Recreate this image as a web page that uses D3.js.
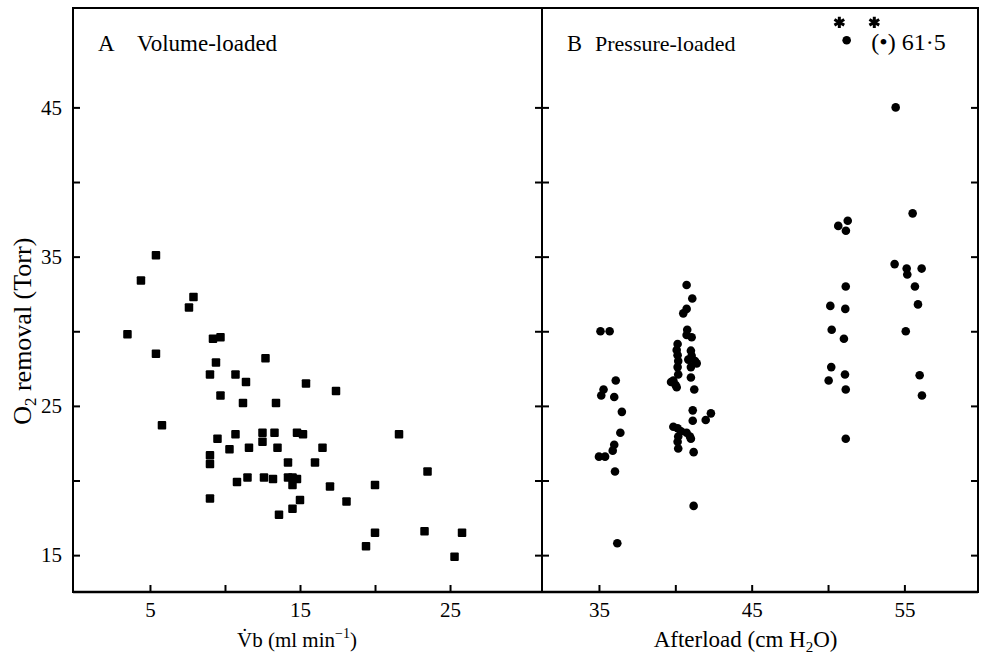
<!DOCTYPE html>
<html>
<head>
<meta charset="utf-8">
<script src="https://cdn.jsdelivr.net/npm/d3@7"></script>
<style>
  body { margin: 0; background: #fff; }
  svg { display: block; }
  svg text { font-family: "Liberation Serif", "Times New Roman", Times, "DejaVu Serif", serif !important; fill: #000; }
  .tick line { stroke: #000; stroke-width: 2; }
</style>
</head>
<body>
<svg id="chart" width="981" height="660"></svg>
<script>
// panel A: volume-loaded, flow (ml/min) vs O2 removal (Torr)
const flowA = [5.4, 4.4, 7.9, 7.6, 3.5, 9.2, 9.7, 5.4, 12.7, 9.4, 9.0, 10.7, 11.4, 15.4, 9.7, 11.2,
  13.4, 17.4, 5.8, 10.7, 9.5, 12.5, 13.3, 14.8, 15.2, 21.6, 10.3, 11.6, 12.5, 13.5, 16.5, 9.0,
  9.0, 14.2, 16.0, 11.5, 10.8, 12.6, 13.2, 14.2, 14.5, 14.8, 14.5, 17.0, 20.0, 23.5, 18.1, 15.0,
  14.5, 13.6, 9.0, 20.0, 23.3, 25.8, 19.4, 25.3];
const o2A = [35.1, 33.4, 32.3, 31.6, 29.8, 29.5, 29.6, 28.5, 28.2, 27.9, 27.1, 27.1, 26.6, 26.5, 25.7, 25.2,
  25.2, 26.0, 23.7, 23.1, 22.8, 23.2, 23.2, 23.2, 23.1, 23.1, 22.1, 22.2, 22.6, 22.2, 22.2, 21.7,
  21.1, 21.2, 21.2, 20.2, 19.9, 20.2, 20.1, 20.2, 20.2, 20.1, 19.7, 19.6, 19.7, 20.6, 18.6, 18.7,
  18.1, 17.7, 18.8, 16.5, 16.6, 16.5, 15.6, 14.9];

// panel B: pressure-loaded, afterload (cm H2O) vs O2 removal (Torr)
const afterloadB = [35.1, 35.7, 36.1, 35.3, 35.15, 36.0, 36.5, 36.4, 36.0, 35.9, 35.0, 35.4, 36.05, 36.2,
  40.74, 41.11, 40.74, 40.52, 40.78, 40.74, 41.07, 40.15, 40.09, 40.15, 41.02, 41.07, 40.19, 40.15,
  40.85, 41.29, 41.4, 41.02, 40.19, 39.87, 39.72, 40.02, 40.09, 41.02, 41.24, 41.14, 41.14, 42.33,
  41.99, 39.87, 40.15, 40.37, 40.74, 40.96, 40.19, 40.15, 40.19, 41.02, 41.2, 41.2,
  51.29, 50.67, 51.17, 51.16, 50.15, 51.13, 50.24, 51.04, 50.21, 50.04, 51.11, 51.16, 51.16,
  54.43, 55.54, 54.36, 55.15, 55.19, 56.13, 55.69, 55.89, 55.09, 56.0, 56.15];
const o2B = [30.0, 30.0, 26.7, 26.1, 25.7, 25.6, 24.6, 23.2, 22.4, 22.0, 21.6, 21.6, 20.6, 15.8,
  33.1, 32.2, 31.5, 31.2, 30.1, 29.75, 29.6, 29.15, 28.75, 28.4, 28.7, 28.35, 28.0, 27.6,
  28.1, 28.0, 27.85, 27.6, 27.1, 26.7, 26.6, 26.4, 26.25, 26.9, 26.1, 24.7, 24.0, 24.5,
  24.05, 23.6, 23.5, 23.3, 23.2, 22.95, 22.95, 22.6, 22.15, 22.8, 21.9, 18.3,
  37.4, 37.06, 36.74, 33.0, 31.7, 31.5, 30.1, 29.5, 27.6, 26.7, 27.1, 26.1, 22.8,
  45.0, 37.9, 34.5, 34.2, 33.8, 34.2, 33.0, 31.8, 30.0, 27.05, 25.7];

// off-scale value, drawn at the top of the panel
const offAfterload = [51.22];
const offO2 = [61.5];
const offCap = 49.5;
const starAfterload = [50.74, 53.03];
const starLevel = 50.7;

const yTicks = [15, 20, 25, 30, 35, 40, 45];
const xTicksA = [5, 10, 15, 20, 25];
const xTicksB = [35, 40, 45, 50, 55];

const serif = "'Liberation Serif', 'Times New Roman', Times, 'DejaVu Serif', serif";

const svg = d3.select('#chart').attr("font-family", serif);
const plotLeft = 73, plotMid = 542, plotRight = 978, plotTop = 8, plotBottom = 592;

const y = d3.scaleLinear().domain([12.53, 51.66]).range([plotBottom, plotTop]);
const xA = d3.scaleLinear().domain([-0.13, 31.13]).range([plotLeft, plotMid]);
const xB = d3.scaleLinear().domain([31.27, 59.82]).range([plotMid, plotRight]);

const labelFmt = d => (d % 10 === 5 ? d : "");

// y axis on the left (ticks point inward)
svg.append("g")
    .attr("transform", "translate(" + plotLeft + ",0)")
    .call(d3.axisLeft(y).tickValues(yTicks).tickSizeInner(-7).tickSizeOuter(0).tickPadding(11).tickFormat(labelFmt))
    .attr("font-family", serif)
    .call(g => g.select(".domain").remove())
    .selectAll("text").attr("font-size", 21);

// ticks on the divider (both sides) and right frame
svg.append("g")
    .attr("transform", "translate(" + (plotMid - 7) + ",0)")
    .call(d3.axisLeft(y).tickValues(yTicks).tickSizeInner(-14).tickSizeOuter(0).tickFormat(""))
    .call(g => g.select(".domain").remove());
svg.append("g")
    .attr("transform", "translate(" + plotRight + ",0)")
    .call(d3.axisRight(y).tickValues(yTicks).tickSizeInner(-7).tickSizeOuter(0).tickFormat(""))
    .call(g => g.select(".domain").remove());

// bottom axes
svg.append("g")
    .attr("transform", "translate(0," + plotBottom + ")")
    .call(d3.axisBottom(xA).tickValues(xTicksA).tickSizeInner(-7).tickSizeOuter(0).tickPadding(10).tickFormat(labelFmt))
    .attr("font-family", serif)
    .call(g => g.select(".domain").remove())
    .selectAll("text").attr("font-size", 21);
svg.append("g")
    .attr("transform", "translate(0," + plotBottom + ")")
    .call(d3.axisBottom(xB).tickValues(xTicksB).tickSizeInner(-7).tickSizeOuter(0).tickPadding(10).tickFormat(labelFmt))
    .attr("font-family", serif)
    .call(g => g.select(".domain").remove())
    .selectAll("text").attr("font-size", 21);

// frame
svg.append("rect")
    .attr("x", plotLeft).attr("y", plotTop)
    .attr("width", plotRight - plotLeft).attr("height", plotBottom - plotTop)
    .attr("fill", "none").attr("stroke", "#000").attr("stroke-width", 2);
svg.append("line")
    .attr("x1", plotLeft).attr("x2", plotRight).attr("y1", plotBottom).attr("y2", plotBottom)
    .attr("stroke", "#000").attr("stroke-width", 2.5);
svg.append("line")
    .attr("x1", plotMid).attr("x2", plotMid).attr("y1", plotTop).attr("y2", plotBottom)
    .attr("stroke", "#000").attr("stroke-width", 2);

// panel A squares
svg.append("g").selectAll("rect")
    .data(flowA.map((v, i) => [v, o2A[i]]))
    .enter().append("rect")
    .attr("x", d => xA(d[0]) - 4.25)
    .attr("y", d => y(d[1]) - 4.25)
    .attr("width", 8.5).attr("height", 8.5)
    .attr("rx", 1)
    .attr("fill", "#000");

// panel B dots
svg.append("g").selectAll("circle")
    .data(afterloadB.map((v, i) => [v, o2B[i]]))
    .enter().append("circle")
    .attr("cx", d => xB(d[0]))
    .attr("cy", d => y(d[1]))
    .attr("r", 4.3)
    .attr("fill", "#000");

svg.append("g").selectAll("circle")
    .data(offAfterload.map((v, i) => [v, Math.min(offO2[i], offCap)]))
    .enter().append("circle")
    .attr("cx", d => xB(d[0]))
    .attr("cy", d => y(d[1]))
    .attr("r", 4.3)
    .attr("fill", "#000");

svg.append("g").selectAll("path")
    .data(starAfterload)
    .enter().append("path")
    .attr("transform", d => "translate(" + xB(d) + "," + y(starLevel) + ")")
    .attr("d", d3.symbol().type(d3.symbolAsterisk).size(90))
    .attr("fill", "none")
    .attr("stroke", "#000")
    .attr("stroke-width", 3);

svg.append("text")
    .attr("x", xB(starAfterload[1]) - 3)
    .attr("y", 50)
    .attr("font-size", 24)
    .text("(•) " + String(offO2[0]).replace(".", "·"));

// panel headings
svg.append("text").attr("x", 98).attr("y", 51).attr("font-size", 23).text("A");
svg.append("text").attr("x", 137).attr("y", 51).attr("font-size", 23).text("Volume-loaded");
svg.append("text").attr("x", 567).attr("y", 51).attr("font-size", 22.5).text("B");
svg.append("text").attr("x", 595).attr("y", 51).attr("font-size", 22).text("Pressure-loaded");

// axis titles
const yTitle = svg.append("text")
    .attr("text-anchor", "middle")
    .attr("transform", "translate(31," + y(30) + ") rotate(-90)")
    .attr("font-size", 26);
yTitle.append("tspan").text("O");
yTitle.append("tspan").attr("font-size", 17).attr("dy", 5).text("2");
yTitle.append("tspan").attr("dy", -5).text(" removal (Torr)");

const xTitleA = svg.append("text")
    .attr("text-anchor", "middle")
    .attr("x", xA(14.8))
    .attr("y", 647)
    .attr("font-size", 21);
xTitleA.append("tspan").text("V\u0307b (ml min");
xTitleA.append("tspan").attr("font-size", 14).attr("dy", -9).text("\u22121");
xTitleA.append("tspan").attr("dy", 9).text(")");

const xTitleB = svg.append("text")
    .attr("text-anchor", "middle")
    .attr("x", xB(44.6))
    .attr("y", 647)
    .attr("font-size", 23);
xTitleB.append("tspan").text("Afterload (cm H");
xTitleB.append("tspan").attr("font-size", 15).attr("dy", 5).text("2");
xTitleB.append("tspan").attr("dy", -5).text("O)");
</script>
</body>
</html>
